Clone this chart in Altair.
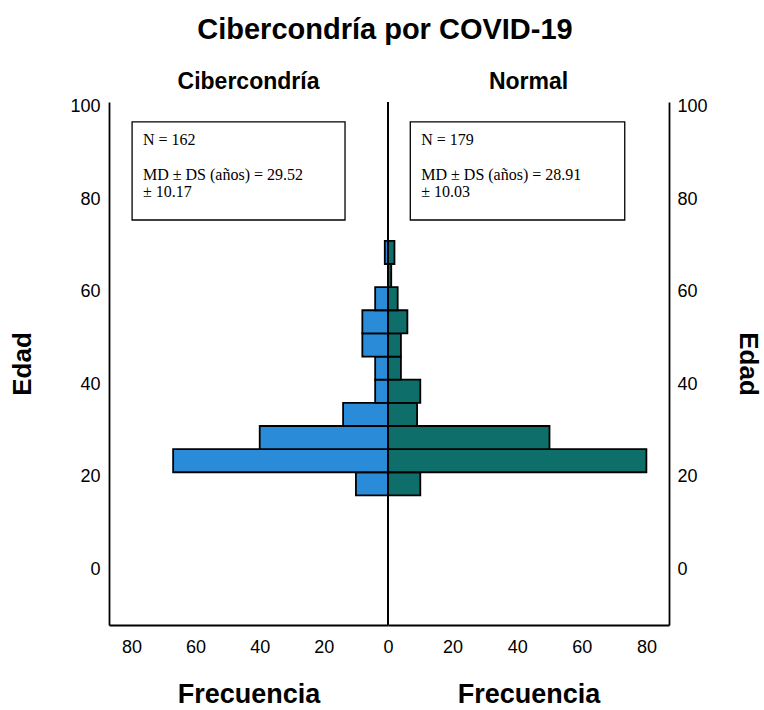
import altair as alt
import pandas as pd

# Age bins (years) and counts per group
bin_start = [16, 21, 26, 31, 36, 41, 46, 51, 56, 61, 66]
bin_end = [21, 26, 31, 36, 41, 46, 51, 56, 61, 66, 71]
freq_ciber = [10, 67, 40, 14, 4, 4, 8, 8, 4, 0, 1]
freq_normal = [10, 80, 50, 9, 10, 4, 4, 6, 3, 1, 2]

# Summary boxes
box_ciber = ["N = 162", "MD ± DS (años) = 29.52", "± 10.17"]
box_normal = ["N = 179", "MD ± DS (años) = 28.91", "± 10.03"]
line_y = [92.8, 85.2, 81.6]

BLUE = "#2a8cd8"
TEAL = "#0e6e6a"
SANS = "Liberation Sans"
SERIF = "Liberation Serif"

X_MAX = 87
Y_DOM = [-12, 101]
Y_TICKS = [0, 20, 40, 60, 80, 100]

df_c = pd.DataFrame({"lo": bin_start, "hi": bin_end, "f": freq_ciber})
df_c = df_c[df_c["f"] > 0]
df_n = pd.DataFrame({"lo": bin_start, "hi": bin_end, "f": freq_normal})


def panel(df, color, reverse, lines, box_x, text_x, title, x_ticks, y_orient):
    yscale = alt.Scale(domain=Y_DOM, nice=False, zero=False)
    xscale = alt.Scale(domain=[0, X_MAX], nice=False, reverse=reverse)
    xaxis = alt.Axis(values=x_ticks, title="Frecuencia", grid=False, ticks=False,
                     labelFlush=False, labelPadding=13, titlePadding=25,
                     titleFontSize=27)
    yaxis = alt.Axis(values=Y_TICKS, title="Edad", orient=y_orient, grid=False,
                     ticks=False, labelPadding=9 if y_orient == "left" else 8,
                     titlePadding=34 if y_orient == "left" else 27,
                     titleFontSize=26)

    bars = alt.Chart(df).mark_rect(stroke="black", strokeWidth=1.8, color=color).encode(
        x=alt.X("f:Q", scale=xscale, axis=xaxis),
        x2=alt.X2(datum=0),
        y=alt.Y("lo:Q", scale=yscale, axis=yaxis),
        y2="hi:Q",
    )

    box_df = pd.DataFrame({"x1": [box_x[0]], "x2": [box_x[1]], "y1": [75.5], "y2": [96.7]})
    box = alt.Chart(box_df).mark_rect(fill="white", stroke="black", strokeWidth=1.3).encode(
        x="x1:Q", x2="x2:Q", y="y1:Q", y2="y2:Q"
    )

    txt_df = pd.DataFrame({"t": lines, "x": [text_x] * len(lines), "y": line_y})
    txt = alt.Chart(txt_df).mark_text(
        align="left", baseline="middle", font=SERIF, fontSize=16, color="black"
    ).encode(x="x:Q", y="y:Q", text="t:N")

    mid = alt.Chart(pd.DataFrame({"z": [0]})).mark_rule(color="black", strokeWidth=2).encode(
        x="z:Q"
    )

    return alt.layer(bars, mid, box, txt).properties(
        width=279 if reverse else 281,
        height=523,
        title=alt.TitleParams(title, fontSize=23, font=SANS, fontWeight="bold",
                              anchor="middle", offset=4, color="black"),
    )


left = panel(df_c, BLUE, True, box_ciber, [79.8, 13.4], 76.4, "Cibercondría",
             [20, 40, 60, 80], "left")
right = panel(df_n, TEAL, False, box_normal, [6.9, 73.3], 10.3, "Normal",
              [0, 20, 40, 60, 80], "right")

chart = alt.hconcat(left, right, spacing=0, bounds="flush").resolve_scale(
    x="independent", y="independent"
).properties(
    title=alt.TitleParams("Cibercondría por COVID-19", fontSize=29, font=SANS,
                          fontWeight="bold", anchor="middle", offset=26, color="black"),
    padding={"left": 9, "top": 15, "right": 2, "bottom": 0},
).configure_view(stroke=None).configure_axis(
    labelFont=SANS, labelFontSize=18, labelColor="black",
    titleFont=SANS, titleFontWeight="bold", titleColor="black",
    domainColor="black", domainWidth=1.8,
)

chart.save("out.html", embed_options={"renderer": "svg", "actions": False})
